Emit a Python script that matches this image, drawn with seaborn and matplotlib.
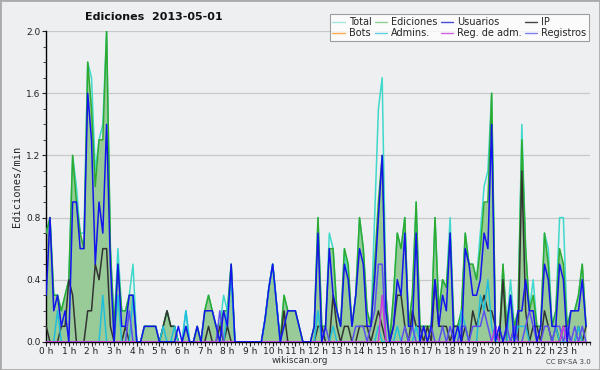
import numpy as np
import pandas as pd
import matplotlib
matplotlib.use("Agg")
import matplotlib.pyplot as plt
from matplotlib.lines import Line2D
from matplotlib.ticker import MultipleLocator
import seaborn as sns

# valores cada 10 minutos (ediciones/min), una fila por hora
total = [
    0.7, 0.8, 0.3, 0.3, 0.2, 0.3,
    0.4, 1.2, 1.0, 0.7, 0.7, 1.8,
    1.7, 1.1, 1.3, 1.4, 2.0, 0.6,
    0.1, 0.6, 0.2, 0.2, 0.3, 0.5,
    0.0, 0.0, 0.1, 0.1, 0.1, 0.1,
    0.0, 0.1, 0.2, 0.1, 0.1, 0.0,
    0.0, 0.2, 0.0, 0.0, 0.1, 0.0,
    0.2, 0.3, 0.2, 0.1, 0.1, 0.3,
    0.2, 0.5, 0.0, 0.0, 0.0, 0.0,
    0.0, 0.0, 0.0, 0.0, 0.15, 0.35,
    0.5, 0.25, 0.0, 0.3, 0.2, 0.2,
    0.2, 0.1, 0.0, 0.0, 0.0, 0.1,
    0.8, 0.1, 0.1, 0.7, 0.6, 0.2,
    0.1, 0.6, 0.4, 0.1, 0.3, 0.8,
    0.6, 0.2, 0.1, 0.8, 1.5, 1.7,
    0.3, 0.0, 0.3, 0.7, 0.6, 0.8,
    0.1, 0.3, 0.9, 0.1, 0.1, 0.1,
    0.1, 0.8, 0.2, 0.4, 0.35, 0.8,
    0.1, 0.1, 0.2, 0.7, 0.5, 0.5,
    0.4, 0.7, 1.0, 1.1, 1.6, 0.1,
    0.0, 0.5, 0.1, 0.4, 0.1, 0.2,
    1.4, 0.6, 0.2, 0.4, 0.1, 0.1,
    0.7, 0.6, 0.1, 0.2, 0.8, 0.8,
    0.1, 0.2, 0.2, 0.3, 0.5, 0.1,
]
ediciones = [
    0.7, 0.8, 0.3, 0.3, 0.2, 0.3,
    0.4, 1.2, 0.9, 0.7, 0.6, 1.8,
    1.5, 1.0, 1.3, 1.3, 2.0, 0.6,
    0.1, 0.5, 0.2, 0.2, 0.3, 0.3,
    0.0, 0.0, 0.1, 0.1, 0.1, 0.1,
    0.0, 0.1, 0.2, 0.1, 0.1, 0.0,
    0.0, 0.1, 0.0, 0.0, 0.1, 0.0,
    0.2, 0.3, 0.2, 0.1, 0.1, 0.2,
    0.2, 0.5, 0.0, 0.0, 0.0, 0.0,
    0.0, 0.0, 0.0, 0.0, 0.15, 0.35,
    0.5, 0.25, 0.0, 0.3, 0.2, 0.2,
    0.2, 0.1, 0.0, 0.0, 0.0, 0.1,
    0.8, 0.1, 0.1, 0.6, 0.6, 0.2,
    0.1, 0.6, 0.5, 0.1, 0.3, 0.8,
    0.6, 0.2, 0.1, 0.5, 0.9, 1.2,
    0.3, 0.0, 0.3, 0.7, 0.6, 0.8,
    0.1, 0.3, 0.9, 0.1, 0.1, 0.1,
    0.1, 0.8, 0.2, 0.4, 0.35, 0.7,
    0.1, 0.1, 0.2, 0.7, 0.5, 0.5,
    0.4, 0.6, 0.9, 0.9, 1.6, 0.1,
    0.0, 0.5, 0.1, 0.3, 0.1, 0.2,
    1.3, 0.6, 0.2, 0.3, 0.1, 0.1,
    0.7, 0.5, 0.1, 0.2, 0.6, 0.5,
    0.1, 0.2, 0.2, 0.3, 0.5, 0.1,
]
usuarios = [
    0.3, 0.8, 0.2, 0.3, 0.1, 0.2,
    0.0, 0.9, 0.9, 0.6, 0.6, 1.6,
    1.3, 0.5, 0.9, 0.7, 1.4, 0.5,
    0.0, 0.5, 0.1, 0.1, 0.3, 0.3,
    0.0, 0.0, 0.1, 0.1, 0.1, 0.1,
    0.0, 0.0, 0.0, 0.0, 0.0, 0.1,
    0.0, 0.1, 0.0, 0.0, 0.1, 0.0,
    0.2, 0.2, 0.2, 0.1, 0.0, 0.2,
    0.1, 0.5, 0.0, 0.0, 0.0, 0.0,
    0.0, 0.0, 0.0, 0.0, 0.15, 0.35,
    0.5, 0.25, 0.0, 0.1, 0.2, 0.2,
    0.2, 0.1, 0.0, 0.0, 0.0, 0.1,
    0.7, 0.0, 0.1, 0.6, 0.3, 0.2,
    0.1, 0.5, 0.4, 0.1, 0.3, 0.6,
    0.5, 0.1, 0.1, 0.4, 0.8, 1.2,
    0.2, 0.0, 0.1, 0.4, 0.3, 0.7,
    0.1, 0.1, 0.7, 0.0, 0.1, 0.0,
    0.1, 0.4, 0.1, 0.3, 0.2, 0.7,
    0.0, 0.1, 0.0, 0.6, 0.5, 0.3,
    0.3, 0.4, 0.7, 0.6, 1.4, 0.0,
    0.1, 0.0, 0.1, 0.3, 0.0, 0.2,
    0.2, 0.4, 0.2, 0.2, 0.0, 0.1,
    0.5, 0.4, 0.1, 0.1, 0.5, 0.4,
    0.0, 0.2, 0.2, 0.2, 0.4, 0.1,
]
ip = [
    0.1, 0.0, 0.0, 0.0, 0.1, 0.1,
    0.4, 0.3, 0.0, 0.0, 0.0, 0.2,
    0.2, 0.5, 0.4, 0.6, 0.6, 0.1,
    0.0, 0.0, 0.0, 0.1, 0.0, 0.0,
    0.0, 0.0, 0.0, 0.0, 0.0, 0.0,
    0.0, 0.1, 0.2, 0.1, 0.1, 0.0,
    0.0, 0.0, 0.0, 0.0, 0.0, 0.0,
    0.0, 0.1, 0.0, 0.0, 0.1, 0.0,
    0.1, 0.0, 0.0, 0.0, 0.0, 0.0,
    0.0, 0.0, 0.0, 0.0, 0.0, 0.0,
    0.0, 0.0, 0.0, 0.2, 0.0, 0.0,
    0.0, 0.0, 0.0, 0.0, 0.0, 0.0,
    0.1, 0.1, 0.0, 0.0, 0.3, 0.1,
    0.0, 0.1, 0.1, 0.0, 0.0, 0.1,
    0.1, 0.1, 0.0, 0.1, 0.2, 0.1,
    0.0, 0.0, 0.1, 0.3, 0.3, 0.1,
    0.0, 0.2, 0.1, 0.1, 0.0, 0.1,
    0.0, 0.4, 0.1, 0.1, 0.1, 0.0,
    0.1, 0.1, 0.0, 0.1, 0.0, 0.2,
    0.1, 0.2, 0.3, 0.2, 0.2, 0.1,
    0.0, 0.4, 0.0, 0.0, 0.1, 0.0,
    1.1, 0.2, 0.0, 0.1, 0.1, 0.0,
    0.2, 0.1, 0.0, 0.1, 0.0, 0.1,
    0.1, 0.0, 0.0, 0.1, 0.0, 0.1,
]
admins = [
    0.0, 0.0, 0.0, 0.2, 0.0, 0.0,
    0.0, 0.0, 0.0, 0.0, 0.0, 0.0,
    0.0, 0.0, 0.0, 0.3, 0.0, 0.0,
    0.0, 0.3, 0.0, 0.0, 0.0, 0.3,
    0.0, 0.0, 0.0, 0.0, 0.0, 0.0,
    0.0, 0.1, 0.0, 0.0, 0.1, 0.0,
    0.0, 0.2, 0.0, 0.0, 0.0, 0.0,
    0.0, 0.0, 0.0, 0.0, 0.0, 0.0,
    0.2, 0.4, 0.0, 0.0, 0.0, 0.0,
    0.0, 0.0, 0.0, 0.0, 0.15, 0.35,
    0.5, 0.25, 0.0, 0.0, 0.0, 0.0,
    0.0, 0.0, 0.0, 0.0, 0.0, 0.0,
    0.2, 0.0, 0.0, 0.0, 0.1, 0.0,
    0.0, 0.0, 0.0, 0.0, 0.0, 0.0,
    0.0, 0.0, 0.0, 0.0, 0.1, 0.0,
    0.0, 0.0, 0.0, 0.1, 0.0, 0.0,
    0.0, 0.0, 0.1, 0.0, 0.0, 0.0,
    0.0, 0.0, 0.0, 0.0, 0.0, 0.0,
    0.0, 0.0, 0.2, 0.1, 0.0, 0.0,
    0.0, 0.3, 0.2, 0.4, 0.1, 0.0,
    0.0, 0.0, 0.0, 0.3, 0.0, 0.1,
    0.1, 0.1, 0.0, 0.0, 0.0, 0.0,
    0.0, 0.0, 0.0, 0.1, 0.0, 0.0,
    0.0, 0.0, 0.0, 0.1, 0.0, 0.0,
]
registros = [
    0.0, 0.0, 0.0, 0.0, 0.0, 0.0,
    0.0, 0.0, 0.0, 0.0, 0.0, 0.0,
    0.0, 0.0, 0.0, 0.0, 0.0, 0.0,
    0.0, 0.0, 0.0, 0.0, 0.2, 0.0,
    0.0, 0.0, 0.0, 0.0, 0.0, 0.0,
    0.0, 0.0, 0.0, 0.0, 0.0, 0.0,
    0.0, 0.0, 0.0, 0.0, 0.0, 0.0,
    0.0, 0.0, 0.0, 0.0, 0.2, 0.0,
    0.0, 0.0, 0.0, 0.0, 0.0, 0.0,
    0.0, 0.0, 0.0, 0.0, 0.0, 0.0,
    0.0, 0.0, 0.0, 0.0, 0.0, 0.0,
    0.0, 0.0, 0.0, 0.0, 0.0, 0.0,
    0.0, 0.0, 0.1, 0.0, 0.0, 0.0,
    0.0, 0.0, 0.0, 0.0, 0.1, 0.1,
    0.1, 0.0, 0.1, 0.2, 0.5, 0.5,
    0.0, 0.0, 0.0, 0.0, 0.0, 0.1,
    0.0, 0.1, 0.0, 0.0, 0.1, 0.0,
    0.1, 0.0, 0.0, 0.1, 0.0, 0.1,
    0.0, 0.0, 0.1, 0.1, 0.0, 0.1,
    0.1, 0.1, 0.2, 0.1, 0.0, 0.1,
    0.0, 0.0, 0.1, 0.0, 0.1, 0.0,
    0.0, 0.1, 0.2, 0.1, 0.0, 0.0,
    0.1, 0.1, 0.0, 0.1, 0.1, 0.0,
    0.1, 0.0, 0.1, 0.0, 0.1, 0.0,
]
reg_adm = [0.0] * 144
reg_adm[89] = 0.3
reg_adm[119] = 0.1
reg_adm[137] = 0.1
bots = [0.0] * 144

horas = np.arange(144) / 6.0
etiquetas_x = [f"{h} h" for h in range(24)]

df = pd.DataFrame({
    "hora": horas, "Total": total, "Ediciones": ediciones,
    "Usuarios": usuarios, "IP": ip, "Bots": bots, "Admins.": admins,
    "Reg. de adm.": reg_adm, "Registros": registros,
})

colores = {
    "Total": "#3fd9cc", "Ediciones": "#2eaa2e", "Usuarios": "#1414ee",
    "IP": "#333333", "Bots": "#ff9a30", "Admins.": "#1fbfdc",
    "Reg. de adm.": "#c83cdc", "Registros": "#5c50f0",
}
colores_leyenda = {
    "Total": "#a6e6df", "Ediciones": "#8fd08f", "Usuarios": "#4a4ad8",
    "IP": "#444444", "Bots": "#ffaa50", "Admins.": "#5cd0e0",
    "Reg. de adm.": "#d060e0", "Registros": "#8080f0",
}

fondo = "#eeeff1"
sns.set_style("white")
fig = plt.figure(figsize=(6, 3.7), dpi=100, facecolor=fondo)
ax = fig.add_axes([0.077, 0.076, 0.906, 0.84])
ax.set_facecolor(fondo)

ax.fill_between(df["hora"], 0, df["Ediciones"], color="#99cb99", lw=0, zorder=1)
orden = ["Bots", "Total", "Ediciones", "IP", "Admins.", "Registros", "Reg. de adm.", "Usuarios"]
for serie in orden:
    sns.lineplot(data=df, x="hora", y=serie, ax=ax, color=colores[serie],
                 lw=1.1, zorder=3, legend=False)

ax.set_xlim(0, 24)
ax.set_ylim(0, 2.0)
ax.set_xticks(range(24))
ax.set_xticklabels(etiquetas_x)
ax.xaxis.set_minor_locator(MultipleLocator(1 / 6))
ax.set_yticks(np.arange(0, 2.01, 0.4))
ax.set_yticklabels([f"{v:.1f}" for v in np.arange(0, 2.01, 0.4)])
ax.yaxis.set_minor_locator(MultipleLocator(0.1))
ax.tick_params(axis="both", which="major", labelsize=6.5, length=3, width=0.8,
               pad=1, colors="#222222", direction="out", bottom=True, left=True)
ax.tick_params(axis="both", which="minor", length=2, width=0.6,
               direction="out", bottom=True, left=True)
ax.grid(axis="y", color="#c8c8c8", lw=0.9, zorder=0)
ax.set_axisbelow(True)
for lado in ["top", "right"]:
    ax.spines[lado].set_visible(False)
for lado in ["left", "bottom"]:
    ax.spines[lado].set_color("#000000")
    ax.spines[lado].set_linewidth(1.0)
ax.set_xlabel("")
ax.set_ylabel("Ediciones/min", fontsize=7.5, family="DejaVu Sans Mono", labelpad=3)

fig.text(0.256, 0.954, "Ediciones  2013-05-01", ha="center", va="center",
         fontsize=8, fontweight="bold", color="#111111")
fig.text(0.5, 0.025, "wikiscan.org", ha="center", va="center", fontsize=6.5, color="#333333")
fig.text(0.985, 0.022, "CC BY-SA 3.0", ha="right", va="center", fontsize=5, color="#444444")

nombres = ["Total", "Bots", "Ediciones", "Admins.", "Usuarios", "Reg. de adm.", "IP", "Registros"]
manijas = [Line2D([0], [0], color=colores_leyenda[n], lw=1) for n in nombres]
leg = fig.legend(manijas, nombres, ncol=4, loc="upper right",
                 bbox_to_anchor=(0.99, 0.975), fontsize=7, frameon=True,
                 fancybox=False, handlelength=1.3, handletextpad=0.4,
                 columnspacing=0.3, labelspacing=0.1, borderpad=0.3)
leg.get_frame().set_edgecolor("#888888")
leg.get_frame().set_linewidth(0.8)
leg.get_frame().set_facecolor("white")

borde = plt.Rectangle((0, 0), 1, 1, transform=fig.transFigure, fill=False,
                      edgecolor="#aaaaaa", lw=2)
fig.patches.append(borde)

fig.savefig("out.png", dpi=100, facecolor=fondo)
